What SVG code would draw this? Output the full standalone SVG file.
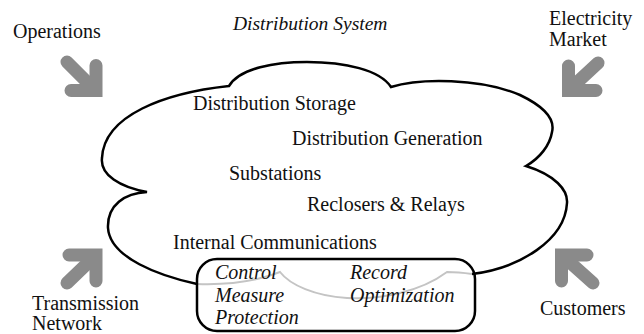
<svg xmlns="http://www.w3.org/2000/svg" width="644" height="334" viewBox="0 0 644 334">
<style>
text{font-family:"Liberation Serif","Times New Roman",serif;font-size:20px;fill:#111}
.it{font-style:italic}
.arrow{fill:none;stroke:#8a8a8a;stroke-width:13}
.shaft{stroke-linecap:round}
.head{stroke-linecap:round;stroke-linejoin:miter}
.cloud{fill:none;stroke:#000;stroke-width:2.5}
.cloudin{fill:none;stroke:#c4c4c4;stroke-width:2}
.box{fill:none;stroke:#000;stroke-width:2.5}
</style>
<rect width="644" height="334" fill="#fff"/>
<g id="connectors">
  <g id="arrow-operations">
    <line class="arrow shaft" x1="67" y1="62" x2="94" y2="89"/>
    <polyline class="arrow head" points="71,90.5 96,90.5 96,65.5"/>
  </g>
  <g id="arrow-market">
    <line class="arrow shaft" x1="598" y1="63" x2="571" y2="88"/>
    <polyline class="arrow head" points="596,90.5 568.5,90.5 568.5,66"/>
  </g>
  <g id="arrow-transmission">
    <line class="arrow shaft" x1="67" y1="283" x2="94" y2="257"/>
    <polyline class="arrow head" points="69,255 96,255 96,281"/>
  </g>
  <g id="arrow-customers">
    <line class="arrow shaft" x1="593" y1="283" x2="565" y2="258"/>
    <polyline class="arrow head" points="587,255 561.5,255 561.5,281"/>
  </g>
</g>
<g id="distribution-system">
  <path class="cloud" d="M197,284 C160,276 110,258 108,228 C107,205 125,193 147,192 C120,187 100,175 102,158 C104,115 165,93 229,86 C240,68 275,62 307,62 C345,62 380,70 391,87 C420,78 480,78 520,95 C545,107 555,120 552,132 C550,145 540,158 526,166 C555,175 568,190 567,203 C565,240 520,268 472,274"/>
  <path class="cloudin" d="M472,274 C465,273 455,272 447,272 C420,292 380,300 347,298 C315,296 290,285 280,272 C255,282 225,285 197,284"/>
  <text class="it" x="233" y="30" style="font-size:19.5px">Distribution System</text>
  <text x="193" y="110">Distribution Storage</text>
  <text x="292" y="145">Distribution Generation</text>
  <text x="229" y="180">Substations</text>
  <text x="307" y="211">Reclosers &amp; Relays</text>
  <text x="173" y="249">Internal Communications</text>
</g>
<g id="communications-box">
  <rect class="box" x="197" y="259" width="278" height="72" rx="20" ry="20"/>
  <text class="it" x="215" y="279">Control</text>
  <text class="it" x="215" y="302">Measure</text>
  <text class="it" x="215" y="324">Protection</text>
  <text class="it" x="350" y="279">Record</text>
  <text class="it" x="350" y="302">Optimization</text>
</g>
<g id="operations"><text x="13" y="38">Operations</text></g>
<g id="electricity-market"><text x="549" y="25">Electricity</text><text x="549" y="46">Market</text></g>
<g id="transmission-network"><text x="32" y="310">Transmission</text><text x="32" y="330">Network</text></g>
<g id="customers"><text x="540" y="315">Customers</text></g>
</svg>
